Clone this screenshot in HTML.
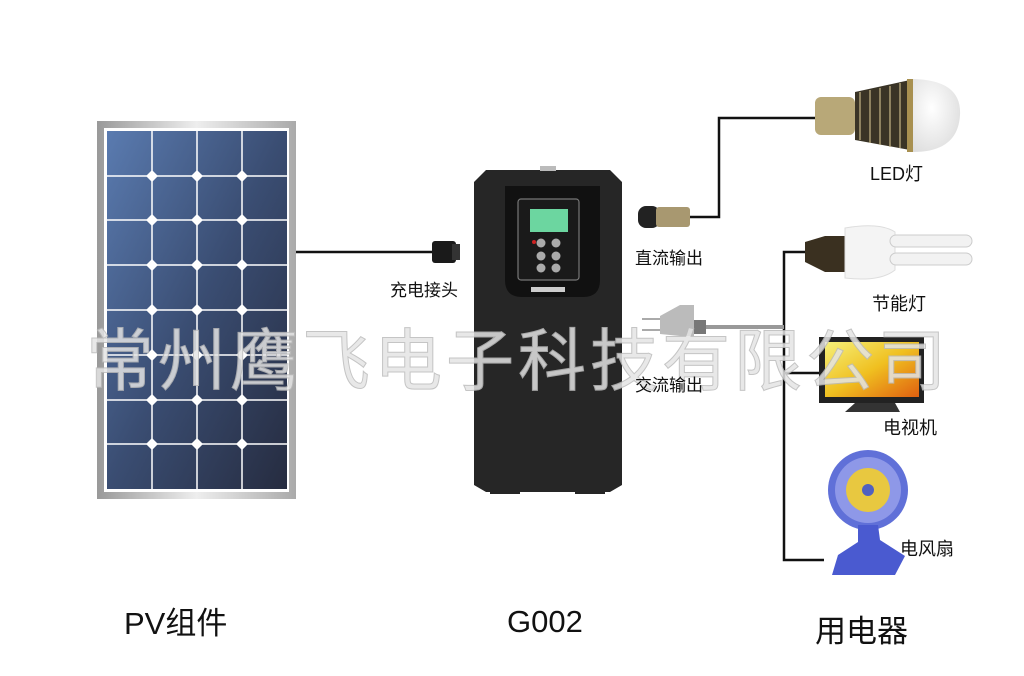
<!DOCTYPE html>
<html><head><meta charset="utf-8"><style>
html,body{margin:0;padding:0;background:#fff;}
body{width:1024px;height:676px;position:relative;overflow:hidden;font-family:"Liberation Sans","Noto Sans CJK SC",sans-serif;}
.t{position:absolute;color:#111;white-space:nowrap;}
</style></head><body>
<svg width="1024" height="676" style="position:absolute;left:0;top:0">
<defs>
<linearGradient id="pv" x1="0" y1="0" x2="1" y2="1"><stop offset="0" stop-color="#5a7bb0"/><stop offset="0.5" stop-color="#3a4d72"/><stop offset="1" stop-color="#262c40"/></linearGradient>
<linearGradient id="frame" x1="0" y1="0" x2="1" y2="0"><stop offset="0" stop-color="#999"/><stop offset="0.5" stop-color="#eee"/><stop offset="1" stop-color="#aaa"/></linearGradient>
<linearGradient id="tv" x1="0" y1="0" x2="1" y2="1"><stop offset="0" stop-color="#f5f07a"/><stop offset="0.5" stop-color="#f0c020"/><stop offset="1" stop-color="#e06010"/></linearGradient>
<radialGradient id="dome" cx="0.4" cy="0.4" r="0.7"><stop offset="0" stop-color="#fff"/><stop offset="1" stop-color="#ddd"/></radialGradient>
</defs>
<rect x="97" y="121" width="199" height="378" fill="url(#frame)"/>
<rect x="104" y="128" width="185" height="364" fill="#fff"/>
<rect x="107" y="131" width="180" height="358" fill="url(#pv)"/>
<g stroke="#fff" stroke-width="1.5">
<line x1="152" y1="131" x2="152" y2="489"/><line x1="197" y1="131" x2="197" y2="489"/><line x1="242" y1="131" x2="242" y2="489"/>
<line x1="107" y1="176" x2="287" y2="176"/><line x1="107" y1="220" x2="287" y2="220"/><line x1="107" y1="265" x2="287" y2="265"/><line x1="107" y1="310" x2="287" y2="310"/><line x1="107" y1="355" x2="287" y2="355"/><line x1="107" y1="400" x2="287" y2="400"/><line x1="107" y1="444" x2="287" y2="444"/>
</g>
<g fill="#fff">
<path d="M152 170l6 6-6 6-6-6z M197 170l6 6-6 6-6-6z M242 170l6 6-6 6-6-6z"/>
<path d="M152 214l6 6-6 6-6-6z M197 214l6 6-6 6-6-6z M242 214l6 6-6 6-6-6z"/>
<path d="M152 259l6 6-6 6-6-6z M197 259l6 6-6 6-6-6z M242 259l6 6-6 6-6-6z"/>
<path d="M152 304l6 6-6 6-6-6z M197 304l6 6-6 6-6-6z M242 304l6 6-6 6-6-6z"/>
<path d="M152 349l6 6-6 6-6-6z M197 349l6 6-6 6-6-6z M242 349l6 6-6 6-6-6z"/>
<path d="M152 394l6 6-6 6-6-6z M197 394l6 6-6 6-6-6z M242 394l6 6-6 6-6-6z"/>
<path d="M152 438l6 6-6 6-6-6z M197 438l6 6-6 6-6-6z M242 438l6 6-6 6-6-6z"/>
</g>
<line x1="296" y1="252" x2="436" y2="252" stroke="#111" stroke-width="2.5"/>
<rect x="432" y="241" width="24" height="22" rx="3" fill="#1a1a1a"/>
<rect x="452" y="244" width="8" height="16" fill="#333"/>
<path d="M486 170H610L622 182V485L610 492H486L474 485V182Z" fill="#262626"/>
<rect x="540" y="166" width="16" height="5" fill="#bbb"/>
<path d="M505 186H600V280Q600 297 583 297H522Q505 297 505 280Z" fill="#111"/>
<rect x="518" y="199" width="61" height="81" rx="3" fill="#1a1a1a" stroke="#777" stroke-width="1.2"/>
<rect x="530" y="209" width="38" height="23" fill="#6cd6a0"/>
<g fill="#aaa"><circle cx="541" cy="243" r="4.5"/><circle cx="556" cy="243" r="4.5"/><circle cx="541" cy="256" r="4.5"/><circle cx="556" cy="256" r="4.5"/><circle cx="541" cy="268" r="4.5"/><circle cx="556" cy="268" r="4.5"/></g>
<circle cx="534" cy="242" r="2" fill="#c22"/>
<rect x="531" y="287" width="34" height="5" fill="#ccc"/>
<rect x="490" y="488" width="30" height="6" fill="#262626"/><rect x="575" y="488" width="30" height="6" fill="#262626"/>
<path d="M815 118H719V217H688" fill="none" stroke="#111" stroke-width="2.5"/>
<rect x="638" y="206" width="22" height="22" rx="8" fill="#222"/>
<rect x="656" y="207" width="34" height="20" rx="3" fill="#a89870"/>
<rect x="815" y="97" width="40" height="38" rx="6" fill="#b8a878"/>
<path d="M855 92L910 80V150L855 140Z" fill="#3a3426"/>
<g stroke="#c8b888" stroke-width="1.2"><line x1="860" y1="92" x2="860" y2="140"/><line x1="870" y1="90" x2="870" y2="143"/><line x1="880" y1="88" x2="880" y2="145"/><line x1="890" y1="86" x2="890" y2="147"/><line x1="900" y1="83" x2="900" y2="148"/></g>
<rect x="907" y="79" width="6" height="73" fill="#a89050"/>
<path d="M913 79Q962 80 960 115Q958 152 913 152Z" fill="url(#dome)"/>
<path d="M805 252H784V560H824 M784 373H820" fill="none" stroke="#111" stroke-width="2.5"/>
<line x1="700" y1="327" x2="784" y2="327" stroke="#999" stroke-width="4"/>
<path d="M660 316L680 305H694V336H680L660 334Z" fill="#bbb"/>
<rect x="694" y="320" width="12" height="14" fill="#777"/>
<g stroke="#aaa" stroke-width="2"><line x1="642" y1="319" x2="660" y2="319"/><line x1="642" y1="330" x2="660" y2="330"/></g>
<path d="M805 242L825 236H850V272H825L805 262Z" fill="#3a3020"/>
<path d="M845 228Q880 222 895 232V270Q880 282 845 278Z" fill="#f4f4f4" stroke="#ddd"/>
<rect x="890" y="235" width="82" height="12" rx="6" fill="#f2f2f2" stroke="#ccc"/>
<rect x="890" y="253" width="82" height="12" rx="6" fill="#f2f2f2" stroke="#ccc"/>
<rect x="819" y="337" width="105" height="66" fill="#222"/>
<rect x="825" y="342" width="94" height="55" fill="url(#tv)"/>
<path d="M855 403H895L900 412H845Z" fill="#333"/>
<circle cx="868" cy="490" r="40" fill="#6070d8"/>
<circle cx="868" cy="490" r="33" fill="#8e98e8"/>
<circle cx="868" cy="490" r="22" fill="#e8c840"/>
<circle cx="868" cy="490" r="6" fill="#5060c0"/>
<path d="M858 525H878L880 540L905 556L895 575H832L838 555L858 542Z" fill="#4a5ad0"/>
</svg>
<div class="t" style="left:86px;top:306px;font-size:68px;color:#e4e4e4;letter-spacing:4px;-webkit-text-stroke:1px #bbb;opacity:0.85;font-family:'Noto Sans CJK SC',sans-serif;">常州鹰飞电子科技有限公司</div>
<div class="t" style="left:390px;top:276px;font-size:17px;">充电接头</div>
<div class="t" style="left:635px;top:244px;font-size:17px;">直流输出</div>
<div class="t" style="left:635px;top:371px;font-size:17px;">交流输出</div>
<div class="t" style="left:870px;top:160px;font-size:18px;">LED灯</div>
<div class="t" style="left:872px;top:290px;font-size:18px;">节能灯</div>
<div class="t" style="left:883px;top:414px;font-size:18px;">电视机</div>
<div class="t" style="left:900px;top:535px;font-size:18px;">电风扇</div>
<div class="t" style="left:124px;top:598px;font-size:31px;">PV组件</div>
<div class="t" style="left:507px;top:604px;font-size:31px;">G002</div>
<div class="t" style="left:815px;top:606px;font-size:31px;">用电器</div>
</body></html>
